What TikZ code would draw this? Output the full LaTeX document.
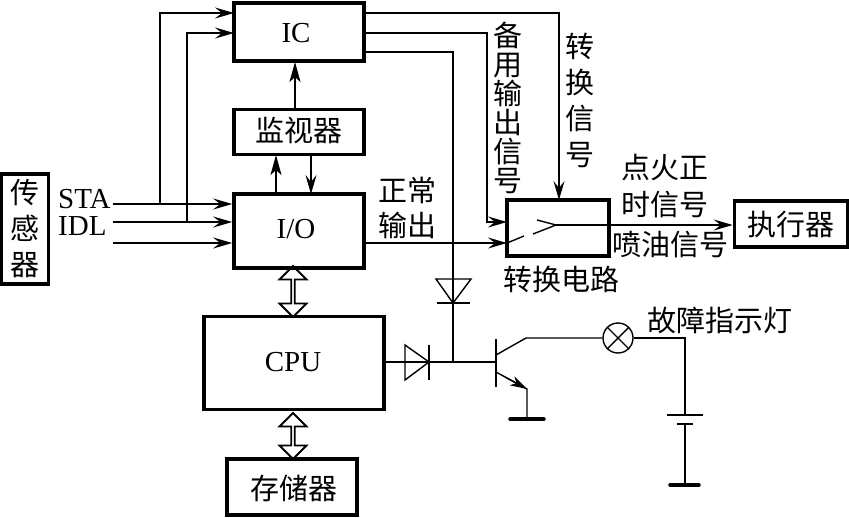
\documentclass[tikz,border=0pt]{standalone}
\usepackage{fontspec}
\setmainfont{Liberation Serif}
\newfontfamily\cjkf{Noto Sans CJK SC}
\usetikzlibrary{arrows.meta,shapes.arrows,calc}
\tikzset{
  x=1pt,y=-1pt,
  blk/.style={draw,line width=3.6pt,inner sep=0pt,minimum width=#1},
  cjk/.style={font=\cjkf\fontsize{29}{#1}\selectfont,inner sep=0pt,align=center},
  cjk/.default=29,
  lat/.style={font=\fontsize{29}{29}\selectfont,inner sep=0pt},
  wire/.style={line width=1.4pt},
  sig/.style={wire,-{Stealth[length=19pt,width=11pt,inset=7pt]}},
  sigb/.style={line width=2pt,-{Stealth[length=20pt,width=11pt,inset=5pt]}},
  hollow/.style={draw,line width=1.8pt,double arrow,double arrow head extend=6pt,
     minimum width=27pt,inner sep=0pt,shape border rotate=90},
  gnd/.style={line width=3.4pt,line cap=round},
}
\begin{document}
\begin{tikzpicture}
\useasboundingbox (0,0) rectangle (849,517);
% boxes
\node[blk=130pt,minimum height=58pt] (ic) at (299,32) {};
\node[lat] at (296,33) {IC};
\node[blk=130pt,minimum height=45pt] (mon) at (299,132) {};
\node[cjk] at (299,131) {监视器};
\node[blk=130pt,minimum height=74pt] (io) at (299,231) {};
\node[lat] at (296,229) {I/O};
\node[blk=47pt,minimum height=110pt] (sen) at (25,229) {};
\node[cjk=36] at (25,229) {传\\感\\器};
\node[blk=180pt,minimum height=93pt] (cpu) at (294,363) {};
\node[lat] at (293,362) {CPU};
\node[blk=130pt,minimum height=56pt] (mem) at (292,487) {};
\node[cjk] at (294,488) {存储器};
\node[blk=102pt,minimum height=56pt] (sw) at (558,228) {};
\node[blk=113pt,minimum height=46pt] (act) at (791,224) {};
\node[cjk] at (791,225) {执行器};
% labels
\node[lat,anchor=west] (lsta) at (58,199) {STA};
\node[lat,anchor=west] (lidl) at (58,226) {IDL};
\node[cjk=35] at (407,208) {正常\\输出};
\node[cjk=29] at (508,108) {备\\用\\输\\出\\信\\号};
\node[cjk=36] at (580,100) {转\\换\\信\\号};
\node[cjk=37] at (665,186) {点火正\\时信号};
\node[cjk] at (670,245) {喷油信号};
\node[cjk] at (561,279) {转换电路};
\node[cjk] at (720,320) {故障指示灯};
% signal coordinates
\coordinate (s1) at (113,204);
\coordinate (s2) at (113,222);
\coordinate (s3) at (113,243);
\coordinate (j1) at (160,204);
\coordinate (j2) at (187,222);
\coordinate (ica) at (234,13);
\coordinate (icb) at (234,33);
\coordinate (oa) at (364,13);
\coordinate (ob) at (364,33);
\coordinate (oc) at (364,52);
\coordinate (swtop) at (559,200);
\coordinate (swa) at (507,222);
\coordinate (swb) at (507,243);
\draw[sig] (s1) -- (io.west |- s1);
\draw[sig] (s2) -- (io.west |- s2);
\draw[sig,line width=2pt] (s3) -- (io.west |- s3);
\draw[sig] (j1) |- (ica);
\draw[sig] (j2) |- (icb);
\draw[sig] (oa) -| (swtop);
\draw[sig] (ob) -| (487,200) |- (swa);
\draw[sig] (io.east |- swb) -- (swb);
% monitor links
\draw[sigb] (mon.north -| 295,0) -- (295,62);
\draw[sigb] (io.north -| 276,0) -- (276,155);
\draw[sig] (311,155) -- (311,194);
% hollow arrows
\node[hollow,minimum height=51pt] (d1) at (293,291.5) {};
\node[hollow,minimum height=46pt] (d2) at (293,436) {};
% switch
\draw[wire] (swb) -- (524,236);
\draw[wire] (533,234) -- (556,225) -- (537,220);
\draw[sig] (556,225) -- (act.west |- 0,225);
% diodes and transistor
\coordinate (n) at (453,362);
\coordinate (b) at (496,362);
\draw[wire] (oc) -| (n);
\draw[wire] (cpu.east |- n) -- (b);
\draw[wire,fill=white] (436,279) -- (471,279) -- (453,303) -- cycle;
\draw[wire] (437,303) -- (470,303);
\draw[wire] (453,279) -- (453,303);
\draw[wire,fill=white] (405,345) -- (405,380) -- (429,362) -- cycle;
\draw[wire] (429,345) -- (429,380);
\draw[wire] (405,362) -- (429,362);
\draw[wire] (496,339) -- (496,387);
% lamp
\node[circle,draw,line width=1.4pt,minimum size=30pt,inner sep=0pt] (lamp) at (618,338) {};
\draw[wire] (lamp.45) -- (lamp.225);
\draw[wire] (lamp.135) -- (lamp.315);
\coordinate (cc) at (526,338);
\draw[wire] (496,355) -- (cc) -- (lamp.west);
\coordinate (ee) at (527,389);
\coordinate (g1) at (527,419);
\draw[wire] (496,372) -- (ee) -- (g1);
\draw[line width=1.4pt,-{Stealth[length=17pt,width=10pt,inset=5pt]}] (505,377) -- (ee);
\draw[gnd] (510,419) -- (544,419);
% battery
\coordinate (bt) at (685,415);
\coordinate (bb) at (685,424);
\coordinate (g2) at (685,485);
\draw[wire] (lamp.east) -| (bt);
\draw[wire] (667,415) -- (703,415);
\draw[wire] (677,424) -- (693,424);
\draw[wire] (bb) -- (g2);
\draw[gnd] (670,485) -- (699,485);
\end{tikzpicture}
\end{document}
